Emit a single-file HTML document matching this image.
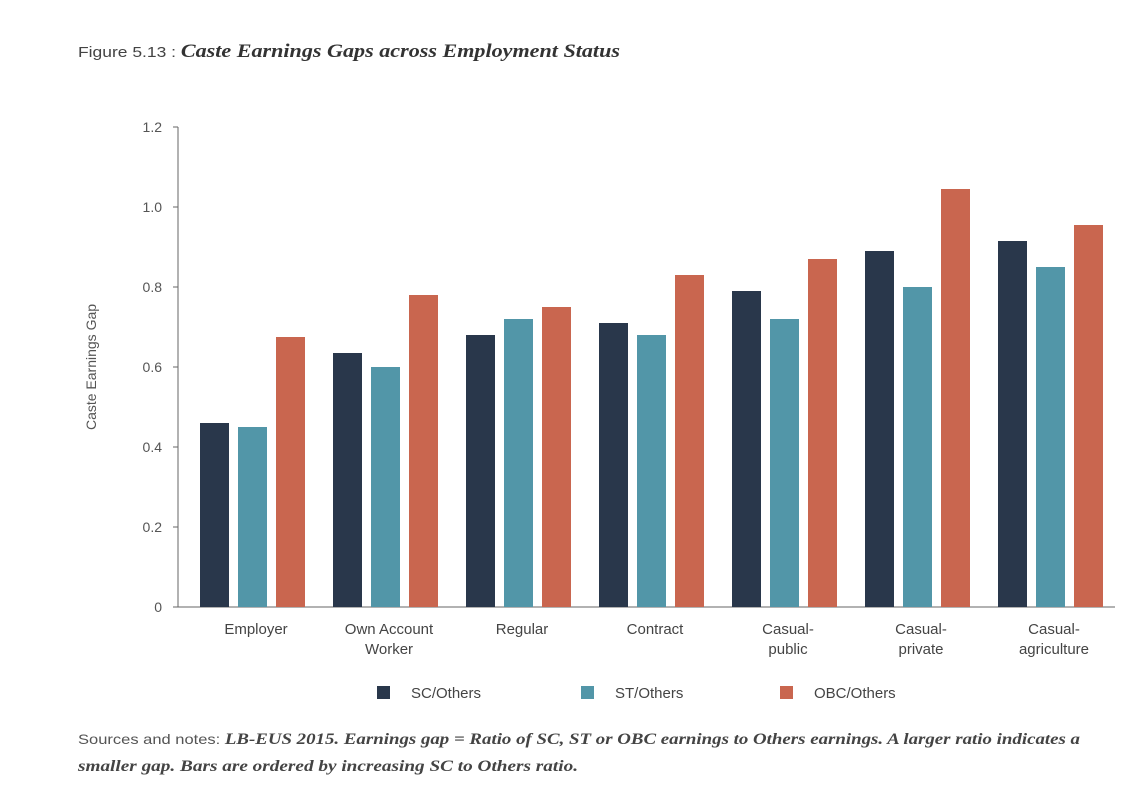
<!DOCTYPE html>
<html><head><meta charset="utf-8"><style>
body{margin:0;background:#fff;width:1147px;height:803px;overflow:hidden;font-family:"Liberation Sans",sans-serif;}
</style></head><body>
<svg id="c" width="1147" height="803" xmlns="http://www.w3.org/2000/svg">
<text x="78" y="57" font-size="15" fill="#444" textLength="542" lengthAdjust="spacingAndGlyphs">Figure 5.13 : <tspan font-family="Liberation Serif" font-style="italic" font-weight="bold" font-size="19" fill="#333">Caste Earnings Gaps across Employment Status</tspan></text>
<text transform="translate(96,367) rotate(-90)" text-anchor="middle" font-size="14" fill="#555">Caste Earnings Gap</text>
<g id="plot"></g>
<text x="78" y="744" font-size="14" fill="#555" textLength="1002" lengthAdjust="spacingAndGlyphs">Sources and notes: <tspan font-family="Liberation Serif" font-style="italic" font-weight="bold" font-size="16" fill="#444">LB-EUS 2015. Earnings gap = Ratio of SC, ST or OBC earnings to Others earnings. A larger ratio indicates a</tspan></text>
<text x="78" y="771" font-family="Liberation Serif" font-style="italic" font-weight="bold" font-size="16" fill="#444" textLength="500" lengthAdjust="spacingAndGlyphs">smaller gap. Bars are ordered by increasing SC to Others ratio.</text>
</svg>
<script>
const categories=[["Employer"],["Own Account","Worker"],["Regular"],["Contract"],["Casual-","public"],["Casual-","private"],["Casual-","agriculture"]];
const scValues=[0.46,0.635,0.68,0.71,0.79,0.89,0.915];
const stValues=[0.45,0.60,0.72,0.68,0.72,0.80,0.85];
const obcValues=[0.675,0.78,0.75,0.83,0.87,1.045,0.955];
const yTicks=[0,0.2,0.4,0.6,0.8,1.0,1.2];
const yTickLabels=["0","0.2","0.4","0.6","0.8","1.0","1.2"];
const seriesNames=["SC/Others","ST/Others","OBC/Others"];
const colors=["#29374b","#5296a8","#c9664f"];
const NS="http://www.w3.org/2000/svg";
const g=document.getElementById('plot');
const y=v=>607-v*400;
const xc=i=>252+i*133;
function el(t,a){const e=document.createElementNS(NS,t);for(const k in a)e.setAttribute(k,a[k]);g.appendChild(e);return e;}
let ax=el('line',{x1:178,y1:127,x2:178,y2:607,stroke:'#666'});


let bx=el('line',{x1:178,y1:607,x2:1115,y2:607,stroke:'#666'});


yTicks.forEach((v,i)=>{
  el('line',{x1:173,x2:178,y1:y(v),y2:y(v),stroke:'#666'});
  const t=el('text',{x:162,y:y(v)+5,'text-anchor':'end','font-size':14,fill:'#555'});t.textContent=yTickLabels[i];
  
  
});
const series=[scValues,stValues,obcValues];
categories.forEach((c,i)=>{
  series.forEach((s,j)=>{
    const r=el('rect',{x:xc(i)-52+j*38,y:y(s[i]),width:29,height:s[i]*400,fill:colors[j]});
    
    
  });
  c.forEach((l,k)=>{
    const t=el('text',{x:xc(i)+4,y:634+k*20,'text-anchor':'middle','font-size':15,fill:'#444'});t.textContent=l;
    
    
  });
});
const lx=[377,581,780];
seriesNames.forEach((n,j)=>{
  const r=el('rect',{x:lx[j],y:686,width:13,height:13,fill:colors[j]});
  
  
  const t=el('text',{x:lx[j]+34,y:698,'font-size':15,fill:'#444'});t.textContent=n;
  
  
});
</script>
</body></html>
